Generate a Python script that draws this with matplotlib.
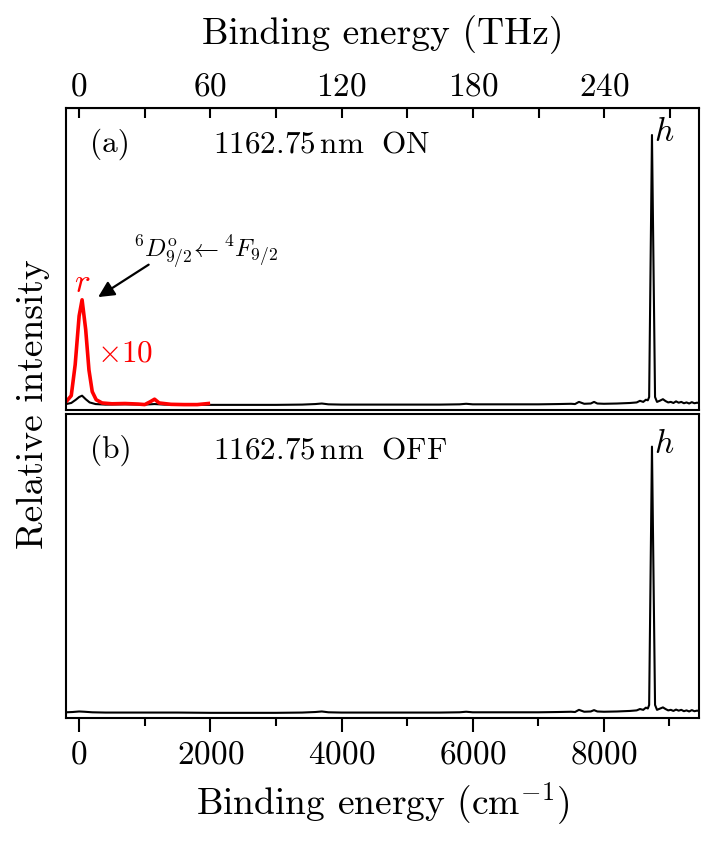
import matplotlib
matplotlib.use("Agg")
import matplotlib.pyplot as plt
from matplotlib.ticker import MultipleLocator

plt.rcParams['font.family'] = 'serif'
plt.rcParams['font.serif'] = ['cmr10']
plt.rcParams['mathtext.fontset'] = 'cm'
plt.rcParams['axes.formatter.use_mathtext'] = True

# binding energy (cm^-1) and relative intensity
wn_on = [-200, -120, -50, 0, 45, 100, 160, 250, 400, 700, 1000, 1150, 1300, 1600,
         2000, 2500, 3000, 3400, 3600, 3700, 3800, 4000, 4500, 5000, 5500, 5800,
         5900, 6000, 6500, 7000, 7300, 7500, 7560, 7620, 7700, 7800, 7850, 7900,
         8000, 8200, 8400, 8500, 8550, 8600, 8640, 8670, 8690, 8733, 8780, 8810,
         8850, 8900, 8940, 8980, 9020, 9060, 9100, 9140, 9180, 9220, 9260, 9300,
         9340, 9380, 9420, 9450]
int_on = [0.004, 0.008, 0.02, 0.03, 0.035, 0.022, 0.01, 0.004, 0.002, 0.003, 0.002,
          0.004, 0.002, 0.002, 0.001, 0.001, 0.001, 0.002, 0.004, 0.006, 0.003, 0.002,
          0.002, 0.002, 0.002, 0.003, 0.005, 0.003, 0.003, 0.003, 0.004, 0.005, 0.004,
          0.012, 0.005, 0.006, 0.012, 0.006, 0.005, 0.006, 0.008, 0.01, 0.016, 0.012,
          0.02, 0.018, 0.03, 1.0, 0.03, 0.012, 0.016, 0.022, 0.015, 0.01, 0.012, 0.008,
          0.014, 0.009, 0.012, 0.007, 0.01, 0.006, 0.011, 0.007, 0.009, 0.008]

wn_off = [-200, -100, 0, 80, 200, 400, 700, 1000, 1500, 2000, 2500, 3000, 3400,
          3600, 3700, 3800, 4000, 4500, 5000, 5500, 5800, 5900, 6000, 6500, 7000,
          7300, 7500, 7560, 7620, 7700, 7800, 7850, 7900, 8000, 8200, 8400, 8500,
          8550, 8600, 8640, 8670, 8690, 8733, 8780, 8810, 8850, 8900, 8940, 8980,
          9020, 9060, 9100, 9140, 9180, 9220, 9260, 9300, 9340, 9380, 9420, 9450]
int_off = [0.003, 0.004, 0.006, 0.005, 0.003, 0.002, 0.002, 0.002, 0.002, 0.001,
           0.001, 0.001, 0.002, 0.004, 0.006, 0.003, 0.002, 0.002, 0.002, 0.002,
           0.003, 0.005, 0.003, 0.003, 0.003, 0.004, 0.005, 0.004, 0.012, 0.005,
           0.006, 0.011, 0.006, 0.005, 0.006, 0.008, 0.01, 0.015, 0.012, 0.02, 0.017,
           0.03, 0.98, 0.03, 0.012, 0.016, 0.021, 0.015, 0.01, 0.012, 0.008, 0.013,
           0.009, 0.012, 0.007, 0.01, 0.006, 0.011, 0.007, 0.009, 0.008]

# low-energy part of the ON spectrum multiplied by 10
wn_x10 = [-200, -120, -60, 0, 45, 100, 150, 200, 260, 350, 500, 700, 900, 1000,
          1080, 1150, 1220, 1400, 1600, 1800, 1970]
int_x10 = [0.012, 0.035, 0.15, 0.33, 0.39, 0.28, 0.13, 0.05, 0.02, 0.008, 0.005,
           0.006, 0.004, 0.002, 0.012, 0.022, 0.008, 0.003, 0.002, 0.002, 0.006]

thz_major = [0, 60, 120, 180, 240]
thz_minor = [30, 90, 150, 210, 270]

CM_PER_THZ = 33.356
fs_tick = 24
fs_label = 27
fs_text = 22.5

fig = plt.figure(figsize=(7.22, 8.42), dpi=100)
ax1 = fig.add_axes([66/722, 1-410/842, 633/722, 302/842])
ax2 = fig.add_axes([66/722, 1-718/842, 633/722, 304/842])

ax1.plot(wn_on, int_on, color='black', lw=1.5)
ax1.plot(wn_x10, int_x10, color='red', lw=2.6)
ax2.plot(wn_off, int_off, color='black', lw=1.5)

for ax in (ax1, ax2):
    ax.set_xlim(-200, 9450)
    ax.set_ylim(-0.018, 1.1)
    ax.set_yticks([])
    for s in ax.spines.values():
        s.set_linewidth(1.5)
    ax.xaxis.set_major_locator(MultipleLocator(2000))
    ax.xaxis.set_minor_locator(MultipleLocator(1000))
    ax.tick_params(axis='x', which='both', direction='out', width=1.5,
                   labelsize=fs_tick, pad=6)
    ax.tick_params(axis='x', which='major', length=10)
    ax.tick_params(axis='x', which='minor', length=6)

ax1.tick_params(axis='x', which='both', bottom=False, labelbottom=False)

top = ax1.secondary_xaxis('top', functions=(lambda x: x / CM_PER_THZ,
                                            lambda t: t * CM_PER_THZ))
top.set_xticks(thz_major)
top.set_xticks(thz_minor, minor=True)
top.tick_params(axis='x', which='both', direction='in', width=1.5, length=7,
                labelsize=fs_tick, pad=5)
top.set_xlabel('Binding energy (THz)', fontsize=fs_label, labelpad=20)

ax2.set_xlabel(r'Binding energy (cm$^{-1}$)', fontsize=fs_label, labelpad=8)
fig.text(33/722, 0.52, 'Relative intensity', rotation=90, fontsize=fs_label,
         ha='center', va='center')

ax1.text(0.038, 0.88, '(a)', transform=ax1.transAxes, fontsize=fs_text, va='center')
ax1.text(0.232, 0.88, r'$1162.75\,\mathrm{nm}\ \ \mathrm{ON}$', transform=ax1.transAxes,
         fontsize=fs_text, va='center')
ax2.text(0.038, 0.88, '(b)', transform=ax2.transAxes, fontsize=fs_text, va='center')
ax2.text(0.232, 0.88, r'$1162.75\,\mathrm{nm}\ \ \mathrm{OFF}$', transform=ax2.transAxes,
         fontsize=fs_text, va='center')

ax1.text(8770, 0.955, '$h$', fontsize=24, va='bottom', ha='left')
ax2.text(8770, 0.935, '$h$', fontsize=24, va='bottom', ha='left')

ax1.text(45, 0.45, '$r$', color='red', fontsize=24, ha='center', va='center')
ax1.text(265, 0.19, r'$\times10$', color='red', fontsize=fs_text, ha='left', va='center')

ax1.text(1920, 0.565, r'${}^6D^{\mathrm{o}}_{9/2}\!\leftarrow{}^4F_{9/2}$',
         fontsize=18, ha='center', va='center')
ax1.annotate('', xy=(290, 0.40), xytext=(1060, 0.52),
             arrowprops=dict(arrowstyle='-|>', color='black', lw=1.6,
                             mutation_scale=24, shrinkA=0, shrinkB=0))

fig.savefig('out.png', dpi=100)
